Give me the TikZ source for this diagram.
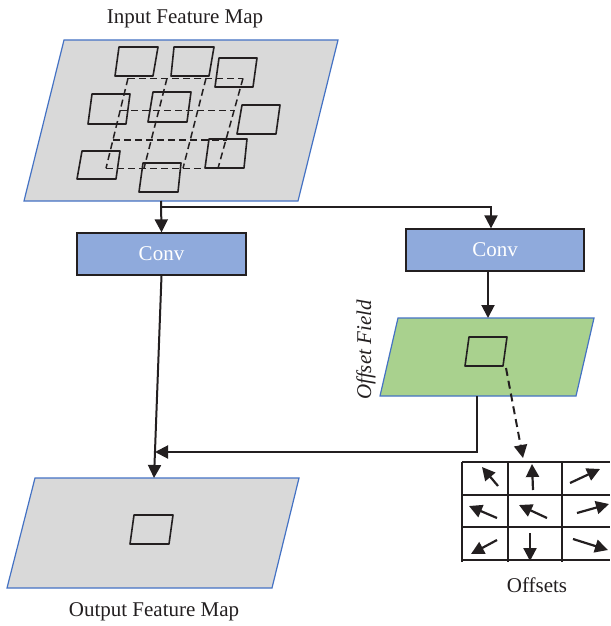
\documentclass[tikz,border=0pt]{standalone}
\usepackage{fontspec}
\setmainfont{Liberation Serif}
\usetikzlibrary{arrows.meta,calc}
\definecolor{mapgray}{HTML}{D9D9D9}
\definecolor{mapblue}{HTML}{4472C4}
\definecolor{convblue}{HTML}{8FAADC}
\definecolor{fieldgreen}{HTML}{A9D18E}
\definecolor{ink}{HTML}{231F20}
\tikzset{
  fmap/.style={fill=mapgray,draw=mapblue,line width=1.2pt},
  ofield/.style={fill=fieldgreen,draw=mapblue,line width=1.2pt},
  convbox/.style={fill=convblue,draw=ink,line width=1.3pt,minimum width=169pt,minimum height=42pt,inner sep=0pt,text=white,font=\fontsize{21}{25}\selectfont},
  lbl/.style={font=\fontsize{21}{25}\selectfont,text=ink,inner sep=0pt},
  win/.style={draw=ink,line width=1.6pt,line join=round},
  dgrid/.style={draw=ink,line width=1.5pt,dash pattern=on 7pt off 4pt},
  arr/.style={draw=ink,line width=2pt,-{Triangle[length=13pt,width=13pt]}},
  darr/.style={draw=ink,line width=2pt,dash pattern=on 8pt off 5pt,-{Triangle[length=13pt,width=13pt]}},
  oarr/.style={draw=ink,line width=2.2pt,-{Triangle[length=13pt,width=13pt]}},
  cell/.style={draw=ink,line width=1.3pt}
}
\begin{document}
\begin{tikzpicture}[x=1pt,y=-1pt]
\useasboundingbox (0,0) rectangle (610,626);

% ---------- Input feature map ----------
\path[fmap] (64,40) -- (338,40) -- (298,201) -- (24,201) -- cycle;
\node[lbl] (inlabel) at (185,19) {Input Feature Map};
% dashed regular grid
\foreach \ya/\xa/\xb in {78.3/128/243, 110.7/120/235, 140/113/227, 168.3/106/218}
  \draw[dgrid] (\xa,\ya) -- (\xb,\ya);
\foreach \xa/\xb in {128/106, 167/144, 206/183, 243/218}
  \draw[dgrid] (\xa,78.3) -- (\xb,168.3);
% sampling windows
\draw[win] (119,47) -- (158,47) -- (153,76) -- (115,76) -- cycle;
\draw[win] (174,47) -- (214,47) -- (209,76) -- (171,76) -- cycle;
\draw[win] (219,58) -- (257,58) -- (253,87) -- (215,87) -- cycle;
\draw[win] (92,94) -- (130,94) -- (126,124) -- (88,124) -- cycle;
\draw[win] (153,92) -- (191,92) -- (187,122) -- (148,122) -- cycle;
\draw[win] (242,105) -- (280,105) -- (276,134) -- (237,134) -- cycle;
\draw[win] (82,151) -- (120,151) -- (116,179) -- (77,179) -- cycle;
\draw[win] (143,163) -- (181,163) -- (178,192) -- (139,192) -- cycle;
\draw[win] (209,139) -- (247,139) -- (244,168) -- (205,168) -- cycle;
\coordinate (inB) at (161,201);
\coordinate (split) at (161,207);

% ---------- Conv boxes ----------
\node[convbox] (convL) at (161.5,254) {Conv};
\node[convbox,minimum width=178pt] (convR) at (495,250) {Conv};

% ---------- Offset field ----------
\path[ofield] (398,318) -- (594,318) -- (576,396) -- (380,396) -- cycle;
\draw[win] (469,337) -- (507,337) -- (503,366) -- (465,366) -- cycle;
\node[lbl,font=\fontsize{21}{25}\selectfont\itshape,rotate=90] (oflabel) at (366,350) {Offset Field};
\coordinate (ofT) at (488,318);
\coordinate (ofB) at (477,396);
\coordinate (ofSq) at (506,368);

% ---------- Output feature map ----------
\path[fmap] (35,478) -- (299,478) -- (272,588) -- (7,588) -- cycle;
\draw[win] (134,515) -- (173,515) -- (169,544) -- (130,544) -- cycle;
\node[lbl] (outlabel) at (154,612) {Output Feature Map};
\coordinate (outT) at (154,478);
\coordinate (merge) at (155,452);

% ---------- Offsets grid ----------
\foreach \y in {462,495,527,560}
  \draw[cell] (462,\y) -- (610,\y);
\foreach \x in {462,508,562}
  \draw[cell] (\x,462) -- (\x,562);
\coordinate (gridT) at (523,458);
\node[lbl] (offlabel) at (537,585) {Offsets};
\draw[oarr] (498,486) -- (482,467);
\draw[oarr] (533,490) -- (532,464);
\draw[oarr] (570,483) -- (600,469);
\draw[oarr] (497,518) -- (469,506);
\draw[oarr] (547,518) -- (519,505);
\draw[oarr] (577,513) -- (609,504);
\draw[oarr] (497,540) -- (471,554);
\draw[oarr] (530,533) -- (530,561);
\draw[oarr] (573,539) -- (608,550);

% ---------- Connectors ----------
\draw[arr] (inB) -- (convL.north);
\draw[arr] (split) -| ([xshift=-4pt]convR.north);
\draw[arr] (convL.south) -- (outT);
\draw[arr] ([xshift=-7pt]convR.south) -- (ofT);
\draw[arr] (ofB) |- (merge);
\draw[darr] (ofSq) -- (gridT);
\end{tikzpicture}
\end{document}
